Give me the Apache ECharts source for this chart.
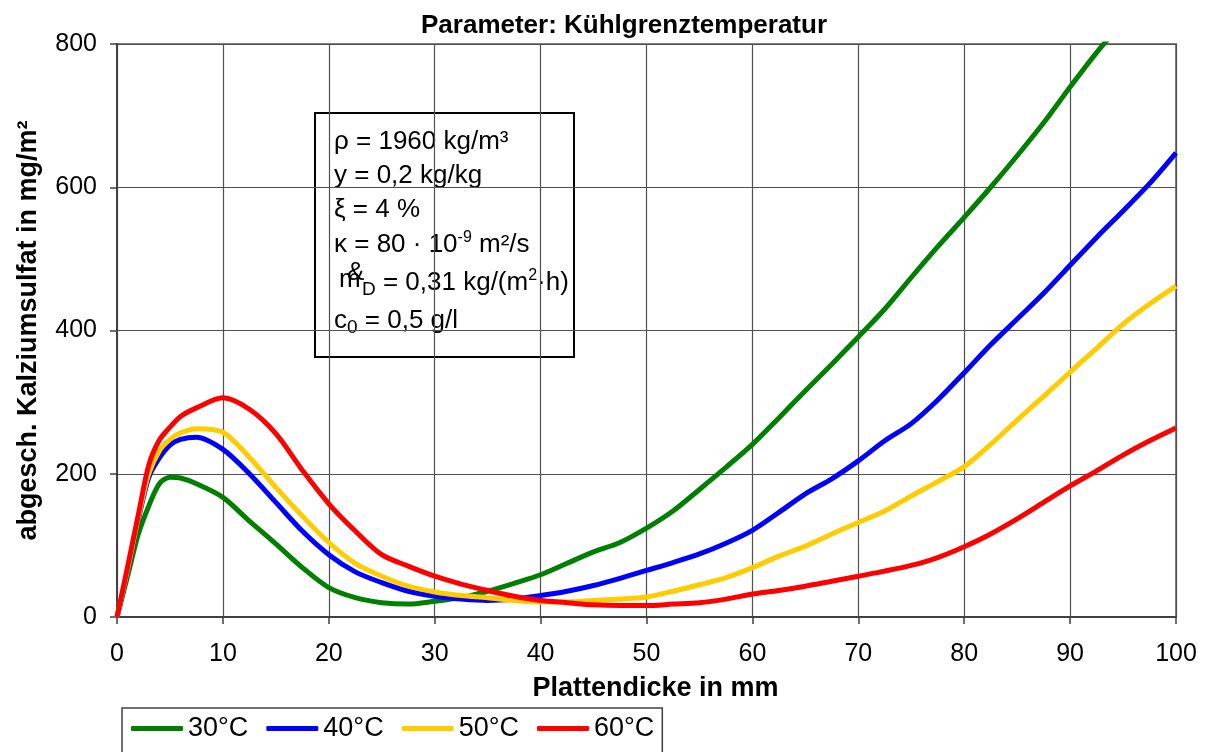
<!DOCTYPE html>
<html>
<head>
<meta charset="utf-8">
<script src="https://cdn.jsdelivr.net/npm/echarts@6/dist/echarts.min.js"></script>
<style>
html,body{margin:0;padding:0;background:#fff;}
#chart{width:1209px;height:752px;}
</style>
</head>
<body>
<div id="chart"></div>
<script>
const titleText = 'Parameter: Kühlgrenztemperatur';
const xAxisTitle = 'Plattendicke in mm';
const yAxisTitle = 'abgesch. Kalziumsulfat in mg/m²';
const seriesNames = ['30°C', '40°C', '50°C', '60°C'];
const seriesColors = ['#008000', '#0000FF', '#FFCC00', '#FF0000'];

const xValues = [0,1,2,3,4,5,6,7.5,10,12.5,15,17.5,20,22.5,25,27.5,30,32.5,35,37.5,40,42.5,45,47.5,50,52.5,55,57.5,60,62.5,65,67.5,70,72.5,75,77.5,80,82.5,85,87.5,90,92.5,95,97.5,100];
const t30 = [0,57,115,155,186,195,194,186,167,134,102,69,41,27,20,18,22,27,36,47,59,75,91,104,124,148,178,209,241,278,316,353,391,430,474,517,558,600,644,690,740,788,832,882,935];
const t40 = [0,64,135,195,222,240,248,251,234,200,160,120,87,63,48,36,29,25,23,25,30,36,44,54,65,76,88,103,121,146,172,193,218,246,270,303,341,380,416,452,491,530,567,605,648];
const t50 = [0,66,138,200,232,248,257,263,258,223,181,141,104,75,57,43,35,30,27,23,21,21,23,25,28,36,45,55,69,85,99,116,132,148,169,189,210,241,275,308,342,375,409,437,462];
const t60 = [0,70,142,212,247,265,280,292,306,290,256,205,158,120,87,71,57,46,37,29,23,20,17,16,16,18,20,25,32,37,43,50,57,64,72,83,98,116,137,160,183,204,226,246,264];

const xTicks = [0,10,20,30,40,50,60,70,80,90,100];
const yTicks = [0,200,400,600,800];

const allSeries = [t30, t40, t50, t60];

const chart = echarts.init(document.getElementById('chart'));
const FONT = 'Liberation Sans, Arial, sans-serif';

const series = allSeries.map((vals, i) => ({
  name: seriesNames[i],
  type: 'line',
  data: xValues.map((x, k) => [x, vals[k]]),
  showSymbol: false,
  smooth: 0.3,
  clip: true,
  lineStyle: { color: seriesColors[i], width: 5 },
  itemStyle: { color: seriesColors[i] },
  z: 3 + i
}));

const boxX = 315, boxY = 113;
const lineStyleTxt = { fontFamily: FONT, fontSize: 26, fill: '#000' };
const rich = {
  sup: { fontFamily: FONT, fontSize: 16, padding: [0, 0, 15, 0] },
  sub: { fontFamily: FONT, fontSize: 19, padding: [13, 0, 0, 0] },
  n: { fontFamily: FONT, fontSize: 26 }
};

function txt(x, y, text) {
  return { type: 'text', x: x, y: y, style: Object.assign({ text: text, rich: rich, verticalAlign: 'middle' }, lineStyleTxt) };
}

const option = {
  animation: false,
  backgroundColor: '#fff',
  title: {
    text: titleText,
    left: 619,
    top: 8,
    textAlign: 'center',
    textStyle: { fontFamily: FONT, fontSize: 26, fontWeight: 'bold', color: '#000' }
  },
  legend: {
    data: seriesNames,
    left: 122,
    top: 708,
    orient: 'horizontal',
    icon: 'roundRect',
    itemWidth: 52,
    itemHeight: 5,
    itemGap: 18,
    padding: [7, 8, 20, 9],
    borderColor: '#404040',
    borderWidth: 1.5,
    textStyle: { fontFamily: FONT, fontSize: 27, color: '#000' }
  },
  grid: {
    left: 117, right: 33, top: 44, bottom: 135,
    show: true, borderColor: '#808080', borderWidth: 2, backgroundColor: 'transparent'
  },
  xAxis: {
    type: 'value', min: 0, max: 100, interval: 10,
    name: xAxisTitle, nameLocation: 'middle', nameGap: 58,
    nameTextStyle: { fontFamily: FONT, fontSize: 27, fontWeight: 'bold', color: '#000', padding: [0, 0, 0, 18] },
    axisLine: { show: true, onZero: false, lineStyle: { color: '#404040', width: 2 } },
    axisTick: { show: true, inside: false, length: 7, lineStyle: { color: '#404040', width: 1.5 } },
    axisLabel: { margin: 25, fontFamily: FONT, fontSize: 25, color: '#000',
      formatter: v => xTicks.indexOf(v) >= 0 ? String(v) : '' },
    splitLine: { show: true, lineStyle: { color: '#505050', width: 1.2 } }
  },
  yAxis: {
    type: 'value', min: 0, max: 800, interval: 200,
    name: yAxisTitle, nameLocation: 'middle', nameGap: 75, nameRotate: 90,
    nameTextStyle: { fontFamily: FONT, fontSize: 27, fontWeight: 'bold', color: '#000' },
    axisLine: { show: true, onZero: false, lineStyle: { color: '#404040', width: 2 } },
    axisTick: { show: true, inside: false, length: 7, lineStyle: { color: '#404040', width: 1.5 } },
    axisLabel: { margin: 20, fontFamily: FONT, fontSize: 25, color: '#000',
      formatter: v => yTicks.indexOf(v) >= 0 ? String(v) : '' },
    splitLine: { show: true, lineStyle: { color: '#505050', width: 1.2 } }
  },
  graphic: [
    {
      type: 'group', z: 100,
      children: [
        { type: 'rect', shape: { x: boxX, y: boxY, width: 259, height: 244 },
          style: { fill: '#fff', stroke: '#000', lineWidth: 2 } },
        txt(334, 142, 'ρ = 1960 kg/m³'),
        txt(334, 176, 'y = 0,2 kg/kg'),
        txt(334, 210, 'ξ = 4 %'),
        txt(334, 245, 'κ = 80 · 10{sup|-9} m²/s'),
        txt(339, 280, 'm'),
        txt(347, 273, '&'),
        txt(362, 283, '{sub|D} = 0,31 kg/(m{sup|2}·h)'),
        txt(334, 321, 'c{sub|0} = 0,5 g/l')
      ]
    }
  ],
  series: series
};
chart.setOption(option);
</script>
</body>
</html>
